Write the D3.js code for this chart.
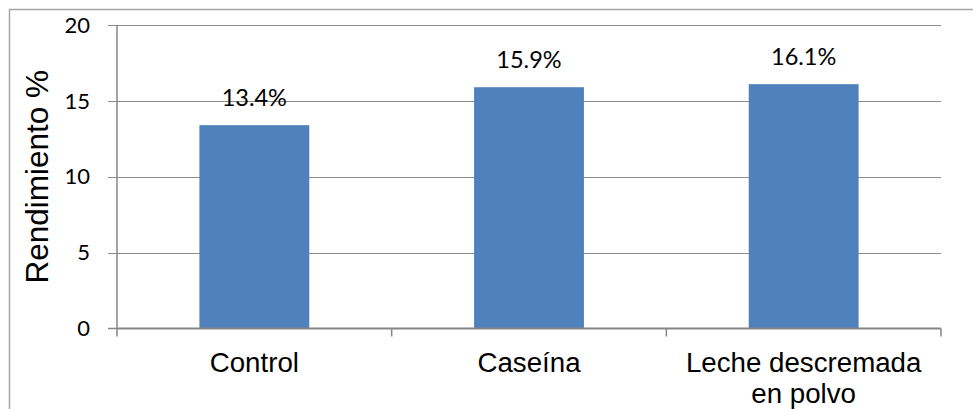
<!DOCTYPE html>
<html><head><meta charset="utf-8">
<script src="https://cdn.jsdelivr.net/npm/d3@7"></script>
<style>body{margin:0;background:#fff}svg{display:block}</style>
</head><body>
<svg id="c" width="973" height="409"></svg>
<script>
const categories = [["Control"], ["Caseína"], ["Leche descremada", "en polvo"]];
const values = [13.4, 15.9, 16.1];
const labels = ["13.4%", "15.9%", "16.1%"];
const yTicks = [0, 5, 10, 15, 20];

const svg = d3.select("#c");
const W = 973, H = 409;
const m = {left: 117, right: 941, top: 25, bottom: 328.5};

// outer border
svg.append("rect").attr("x", 9.5).attr("y", 9.5).attr("width", W + 20).attr("height", H + 20)
  .attr("fill", "none").attr("stroke", "#a6a6a6").attr("stroke-width", 1.5);

const x = d3.scaleBand().domain(d3.range(values.length)).range([m.left, m.right])
  .paddingInner(0.6).paddingOuter(0.3);
const xb = d3.scaleBand().domain(d3.range(values.length)).range([m.left, m.right]);
const y = d3.scaleLinear().domain([0, 20]).range([m.bottom, m.top]);

// gridlines
svg.append("g").selectAll("line").data(yTicks.filter(d => d > 0)).join("line")
  .attr("x1", m.left - 9).attr("x2", m.right)
  .attr("y1", d => Math.round(y(d)) + 0.5).attr("y2", d => Math.round(y(d)) + 0.5)
  .attr("stroke", "#8c8c8c").attr("stroke-width", 1.2);

// bars
svg.append("g").selectAll("rect").data(values).join("rect")
  .attr("x", (d, i) => x(i)).attr("width", x.bandwidth())
  .attr("y", d => y(d)).attr("height", d => y(0) - y(d))
  .attr("fill", "#4f81bd");

// y axis line + ticks
svg.append("line").attr("x1", m.left).attr("x2", m.left).attr("y1", m.top).attr("y2", m.bottom + 8)
  .attr("stroke", "#868686").attr("stroke-width", 1.5);
svg.append("line").attr("x1", m.left - 9).attr("x2", m.left).attr("y1", m.bottom).attr("y2", m.bottom)
  .attr("stroke", "#868686").attr("stroke-width", 1.5);
// x axis line
svg.append("line").attr("x1", m.left).attr("x2", m.right).attr("y1", m.bottom).attr("y2", m.bottom)
  .attr("stroke", "#868686").attr("stroke-width", 2);
// x ticks at category boundaries
svg.append("g").selectAll("line").data(d3.range(1, values.length + 1)).join("line")
  .attr("x1", i => i < values.length ? xb(i) : m.right).attr("x2", i => i < values.length ? xb(i) : m.right)
  .attr("y1", m.bottom).attr("y2", m.bottom + 8)
  .attr("stroke", "#868686").attr("stroke-width", 1.5);

// y tick labels
svg.append("g").selectAll("text").data(yTicks).join("text")
  .attr("x", 90).attr("y", d => y(d)).attr("dy", "0.35em")
  .attr("text-anchor", "end").attr("font-family", "Lato, sans-serif").attr("font-size", 22)
  .attr("fill", "#000").text(d => d);

// data labels
svg.append("g").selectAll("text").data(values).join("text")
  .attr("x", (d, i) => x(i) + x.bandwidth() / 2).attr("y", d => y(d) - 19)
  .attr("text-anchor", "middle").attr("font-family", "Lato, sans-serif").attr("font-size", 23.5)
  .attr("fill", "#000").text((d, i) => labels[i]);

// category labels
const cg = svg.append("g").selectAll("text").data(categories).join("text")
  .attr("text-anchor", "middle").attr("font-family", "'Liberation Sans', Arial, sans-serif")
  .attr("font-size", 27.7).attr("fill", "#000")
  .attr("transform", (d, i) => `translate(${xb(i) + xb.bandwidth() / 2},372)`);
cg.selectAll("tspan").data(d => d).join("tspan")
  .attr("x", 0).attr("y", (d, j) => j * 31).text(d => d);

// y title
svg.append("text").attr("transform", `translate(48,${(m.top + m.bottom) / 2}) rotate(-90)`)
  .attr("text-anchor", "middle").attr("font-family", "'Liberation Sans', Arial, sans-serif")
  .attr("font-size", 31.5).attr("fill", "#000").text("Rendimiento %");
</script>
</body></html>
